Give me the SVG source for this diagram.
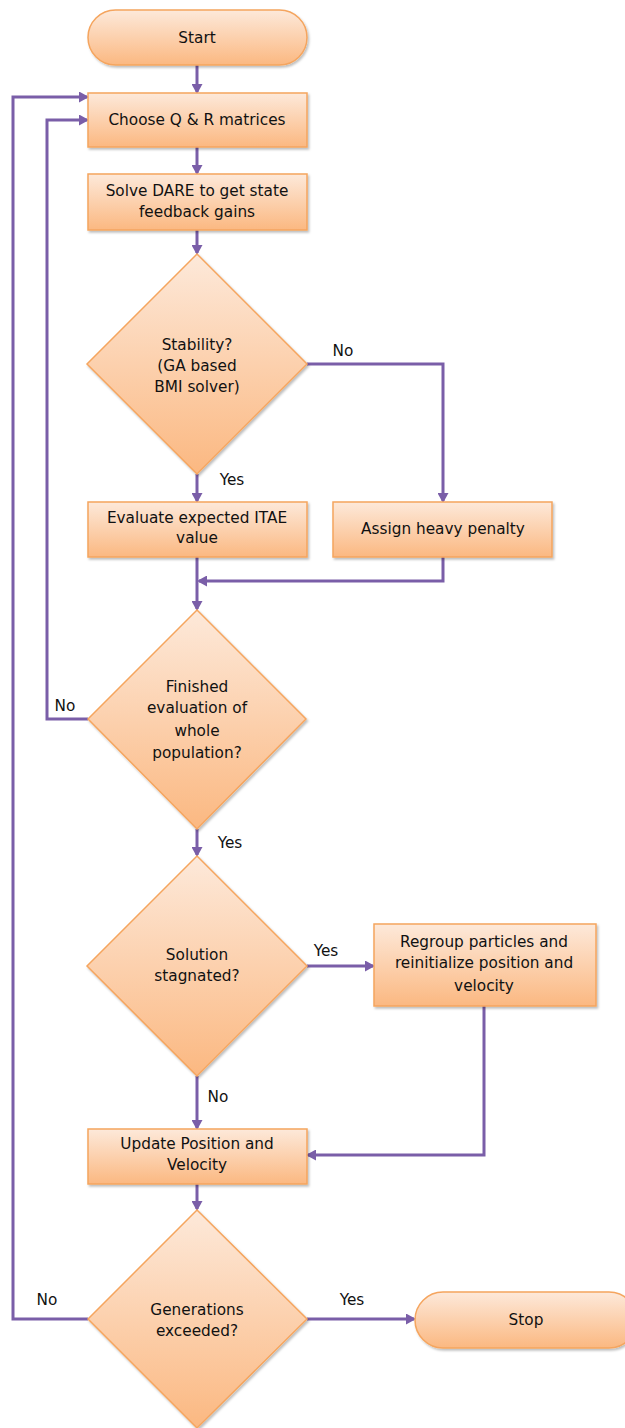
<svg xmlns="http://www.w3.org/2000/svg" width="625" height="1428" viewBox="0 0 625 1428">
<defs>
<linearGradient id="g" x1="0" y1="0" x2="0" y2="1">
<stop offset="0" stop-color="#fde9da"/>
<stop offset="1" stop-color="#fbb881"/>
</linearGradient>
<filter id="sh" x="-10%" y="-10%" width="130%" height="130%">
<feDropShadow dx="1.5" dy="2" stdDeviation="1.2" flood-color="#000" flood-opacity="0.25"/>
</filter>
<marker id="ah" markerWidth="11" markerHeight="11" refX="8" refY="5.5" orient="auto" markerUnits="userSpaceOnUse">
<path d="M0,0 L10,5.5 L0,11 Z" fill="#7a5ea8"/>
</marker>
</defs>
<style>
.n{fill:url(#g);stroke:#f5a55e;stroke-width:1.5;filter:url(#sh)}
.t{font-family:"DejaVu Sans",sans-serif;font-size:15.3px;fill:#111;text-anchor:middle;dominant-baseline:central}
.c{fill:none;stroke:#7a5ea8;stroke-width:3;marker-end:url(#ah)}
</style>
<g id="connectors">
<path class="c" d="M197,65 V92"/>
<path class="c" d="M197,147 V173"/>
<path class="c" d="M197,230 V253"/>
<path class="c" d="M197,474 V501"/>
<path class="c" d="M307,364 H443 V501"/>
<path class="c" d="M197,557 V609"/>
<path class="c" d="M443,557 V581 H199"/>
<path class="c" d="M88,719 H47 V120 H87"/>
<path class="c" d="M197,829 V855"/>
<path class="c" d="M307,966 H373"/>
<path class="c" d="M197,1076 V1128"/>
<path class="c" d="M484,1006 V1155 H308"/>
<path class="c" d="M197,1184 V1209"/>
<path class="c" d="M307,1319 H414"/>
<path class="c" d="M88,1319 H13 V97 H87"/>
</g>
<g id="labels">
<text class="t" x="343" y="351">No</text>
<text class="t" x="232" y="480">Yes</text>
<text class="t" x="65" y="706">No</text>
<text class="t" x="230" y="843">Yes</text>
<text class="t" x="326" y="951">Yes</text>
<text class="t" x="218" y="1097">No</text>
<text class="t" x="47" y="1300">No</text>
<text class="t" x="352" y="1300">Yes</text>
</g>
<g id="start">
<rect class="n" x="88" y="10" width="219" height="55" rx="27.5"/>
<text class="t" x="197" y="38">Start</text>
</g>
<g id="choose">
<rect class="n" x="88" y="93" width="219" height="54"/>
<text class="t" x="197" y="120">Choose Q &amp; R matrices</text>
</g>
<g id="solve">
<rect class="n" x="88" y="174" width="219" height="56"/>
<text class="t" x="197" y="191">Solve DARE to get state</text>
<text class="t" x="197" y="212">feedback gains</text>
</g>
<g id="stability">
<path class="n" d="M197,254 L307,364 L197,474 L87,364 Z"/>
<text class="t" x="197" y="345">Stability?</text>
<text class="t" x="197" y="366">(GA based</text>
<text class="t" x="197" y="387">BMI solver)</text>
</g>
<g id="evaluate">
<rect class="n" x="88" y="502" width="219" height="55"/>
<text class="t" x="197" y="518">Evaluate expected ITAE</text>
<text class="t" x="197" y="538">value</text>
</g>
<g id="penalty">
<rect class="n" x="333" y="502" width="219" height="55"/>
<text class="t" x="443" y="529">Assign heavy penalty</text>
</g>
<g id="finished">
<path class="n" d="M197,610 L306,719 L197,829 L88,719 Z"/>
<text class="t" x="197" y="687">Finished</text>
<text class="t" x="197" y="708">evaluation of</text>
<text class="t" x="197" y="731">whole</text>
<text class="t" x="197" y="753">population?</text>
</g>
<g id="stagnated">
<path class="n" d="M197,856 L307,966 L197,1076 L87,966 Z"/>
<text class="t" x="197" y="955">Solution</text>
<text class="t" x="197" y="976">stagnated?</text>
</g>
<g id="regroup">
<rect class="n" x="374" y="924" width="222" height="82"/>
<text class="t" x="484" y="942">Regroup particles and</text>
<text class="t" x="484" y="963">reinitialize position and</text>
<text class="t" x="484" y="986">velocity</text>
</g>
<g id="update">
<rect class="n" x="88" y="1129" width="219" height="55"/>
<text class="t" x="197" y="1144">Update Position and</text>
<text class="t" x="197" y="1165">Velocity</text>
</g>
<g id="generations">
<path class="n" d="M197,1210 L307,1319 L197,1428 L88,1319 Z"/>
<text class="t" x="197" y="1310">Generations</text>
<text class="t" x="197" y="1331">exceeded?</text>
</g>
<g id="stop">
<rect class="n" x="415" y="1292" width="222" height="56" rx="28"/>
<text class="t" x="526" y="1320">Stop</text>
</g>
</svg>
